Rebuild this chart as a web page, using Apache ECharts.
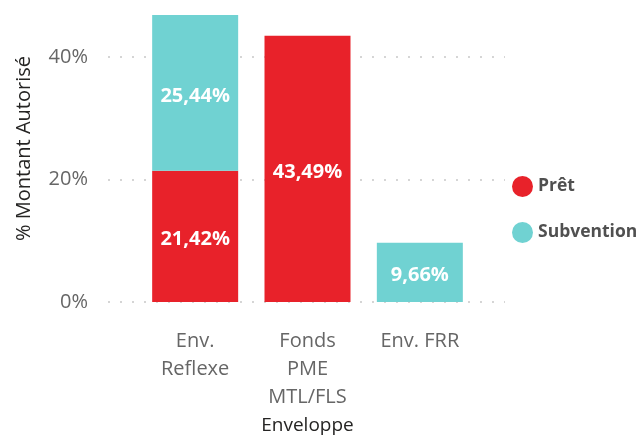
<!DOCTYPE html>
<html><head><meta charset="utf-8">
<script src="https://cdn.jsdelivr.net/npm/echarts@6/dist/echarts.min.js"></script>
<style>html,body{margin:0;padding:0;background:#fff}#c{width:638px;height:436px}</style>
</head><body><div id="c"></div>
<script>
const categories = ['Env. Reflexe', 'Fonds PME MTL/FLS', 'Env. FRR'];
const pret = [21.42, 43.49, null];
const subvention = [25.44, null, 9.66];
const seriesNames = ['Prêt', 'Subvention'];
const yTicks = [0, 20, 40];

const FONT = '"Segoe UI", "Open Sans", sans-serif';
const RED = '#E8222A', TEAL = '#70D2D2';
const totals = categories.map((_, i) => (pret[i] || 0) + (subvention[i] || 0));
const yMax = Math.max(...totals);
const fmt = v => v.toFixed(2).replace('.', ',') + '%';
// greedy word wrap by character count
const wrap = (s, n) => {
  const lines = [];
  let cur = '';
  s.split(' ').forEach(w => {
    if (!cur) cur = w;
    else if ((cur + ' ' + w).length <= n) cur += ' ' + w;
    else { lines.push(cur); cur = w; }
  });
  if (cur) lines.push(cur);
  return lines.join('\n');
};

const chart = echarts.init(document.getElementById('c'));
const lbl = {show: true, position: 'inside', offset: [0, 3], color: '#fff', fontFamily: FONT, fontWeight: 'bold', fontSize: 20,
  formatter: p => (p.value == null ? '' : fmt(p.value))};
chart.setOption({
  animation: false,
  grid: [
    {left: 108, right: 133, top: 15, bottom: 134, outerBoundsMode: 'none', containLabel: false},
    {left: 139, right: 162, top: 15, bottom: 134, outerBoundsMode: 'none', containLabel: false}
  ],
  legend: {
    orient: 'vertical', left: 507, top: 171, icon: 'circle', itemWidth: 21, itemHeight: 21, itemGap: 25,
    data: seriesNames,
    textStyle: {fontFamily: FONT, fontWeight: 'bold', fontSize: 17.5, color: '#505050'}
  },
  xAxis: [
    {gridIndex: 0, type: 'value', min: 0, max: 1, show: false},
    {gridIndex: 1, type: 'category', data: categories,
      axisLine: {show: false}, axisTick: {show: false},
      axisLabel: {color: '#666', fontFamily: FONT, fontSize: 20, margin: 25, lineHeight: 28, interval: 0,
        formatter: v => wrap(v, 8)},
      name: 'Enveloppe', nameLocation: 'middle', nameGap: 113,
      nameTextStyle: {color: '#252423', fontFamily: FONT, fontSize: 19, fontWeight: 500}
    }
  ],
  yAxis: [
    {gridIndex: 0, type: 'value', min: 0, max: yMax, interval: yTicks[1] - yTicks[0],
      axisLine: {show: false}, axisTick: {show: false},
      axisLabel: {color: '#666', fontFamily: FONT, fontSize: 20, margin: 20,
        formatter: v => (yTicks.indexOf(v) >= 0 ? v + '%' : '')},
      splitLine: {showMaxLine: false, lineStyle: {color: '#c8c8c8', type: [2, 10], width: 1.5}},
      name: '% Montant Autorisé', nameLocation: 'middle', nameGap: 74, nameRotate: 90,
      nameTextStyle: {color: '#252423', fontFamily: FONT, fontSize: 20, padding: [0, 0, 0, 20]}
    },
    {gridIndex: 1, type: 'value', min: 0, max: yMax, show: false, splitLine: {show: false}}
  ],
  series: [
    {name: seriesNames[0], type: 'bar', stack: 's', xAxisIndex: 1, yAxisIndex: 1, data: pret,
      barWidth: 86, itemStyle: {color: RED}, label: lbl},
    {name: seriesNames[1], type: 'bar', stack: 's', xAxisIndex: 1, yAxisIndex: 1, data: subvention,
      barWidth: 86, itemStyle: {color: TEAL}, label: lbl}
  ]
});
</script></body></html>
